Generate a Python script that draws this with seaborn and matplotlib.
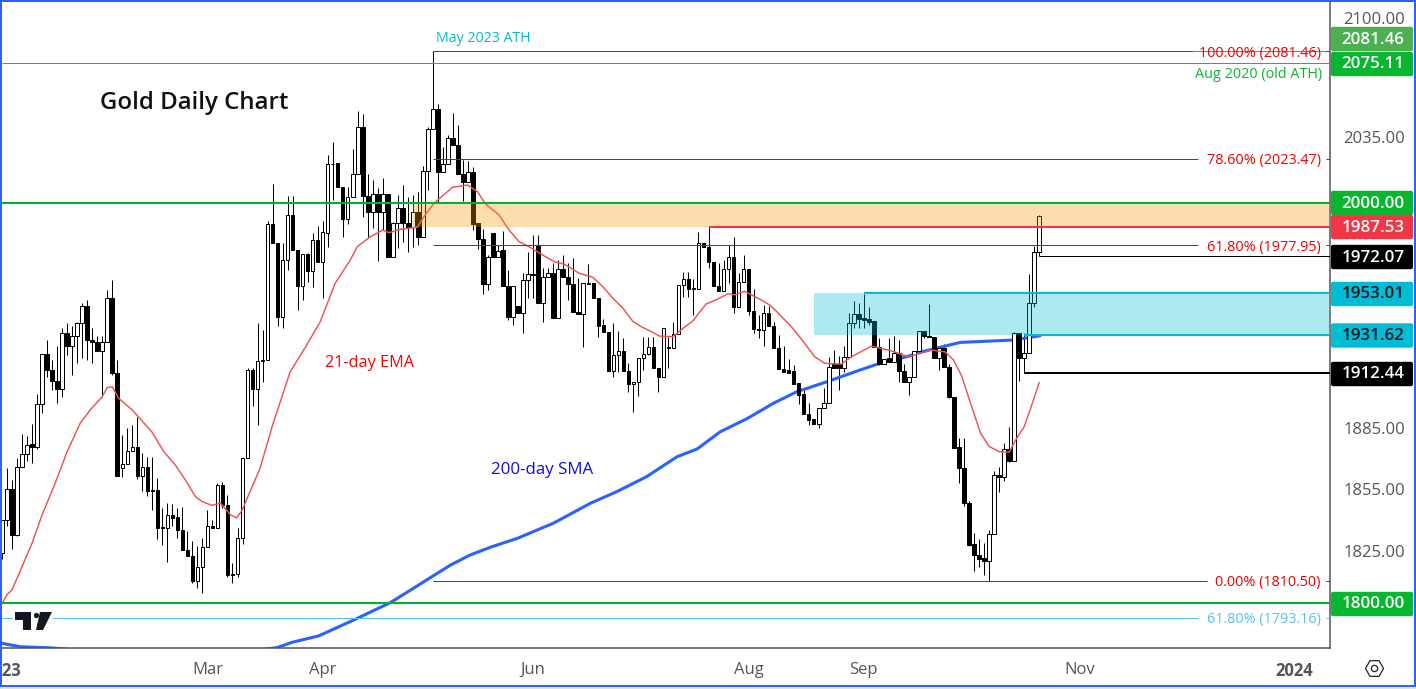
import matplotlib
matplotlib.use("Agg")
import matplotlib.pyplot as plt
from matplotlib.lines import Line2D
from matplotlib.patches import FancyBboxPatch, Polygon, Rectangle
from matplotlib.ticker import NullFormatter, FixedLocator
from matplotlib.transforms import IdentityTransform
import numpy as np
import pandas as pd
import seaborn as sns

# ---------------- data ----------------
open_ = [
 1823.9,1840,1854.8,1832.4,1865.9,1872,1877,1875.5,1896.8,1922,
 1913.7,1908.6,1904.3,1932.7,1926.2,1931,1937.8,1946.3,1929,1928,
 1923.4,1928,1950.5,1912.6,1865.1,1867.2,1873.4,1875.3,1861.4,1865.6,
 1854.5,1854.5,1836.3,1836,1842.2,1841.3,1834.8,1825.2,1822.3,1810.7,
 1817.1,1826.6,1836.8,1836,1856.6,1847.2,1813.7,1813.7,1830.9,1870.1,
 1914,1904.3,1918.3,1919.1,1989,1979.1,1940.9,1970,1993.6,1975.2,
 1956.5,1973.5,1964.3,1980.5,1969,1984.1,2020.9,2021,2008.3,1991.4,
 2003.4,2015.1,2040.3,2003.9,1995.1,2004.8,1995.1,2004.8,1971.6,1989.3,
 1997.2,1989.3,1987.5,1995.1,1982.3,2016.9,2039.2,2050.4,2016.6,2020.7,
 2034.3,2030.6,2015.1,2010.9,2016.3,1989.3,1981.3,1957.7,1984,1971.6,
 1975.4,1957,1941,1946.7,1943.1,1959.6,1962.8,1977.6,1947.9,1961.6,
 1963.3,1940.1,1965.4,1961.3,1957.7,1943.6,1942.3,1957.7,1958.2,1950.5,
 1936.8,1933,1913.6,1921.3,1923.3,1913.6,1907.1,1908,1919.8,1922,
 1925.6,1915.1,1910.5,1925.1,1925.1,1932.1,1957.2,1960.6,1955.5,1955.2,
 1978.9,1976.8,1969.4,1957,1954.4,1965.3,1971.9,1945.8,1959,1965.6,
 1944.1,1934.5,1934.1,1942.7,1936.5,1925.1,1914.2,1913.9,1913.4,1907.2,
 1901.7,1891.7,1889.4,1886.9,1894.7,1897.2,1916.9,1916.9,1915.2,1920.3,
 1937.6,1942.2,1940.5,1939.8,1938.8,1925.6,1916.8,1919.8,1918.2,1922.3,
 1913.6,1908,1910.5,1923.6,1933.5,1931.4,1930.9,1919.8,1925.1,1915.6,
 1900.6,1875.4,1865,1848.3,1828.1,1822.7,1821.3,1820.2,1832.9,1861.6,
 1860.6,1874.4,1868.8,1932.5,1920.2,1922.7,1947.9,1974.1]
high = [
 1840,1865.1,1859.3,1870,1882.1,1881.1,1887.1,1902,1922,1929.3,
 1919.1,1926.2,1935.3,1937.8,1936.1,1938.3,1948,1949.7,1935.3,1931,
 1931,1954.8,1959.9,1919.1,1881.6,1884.9,1886.6,1890.4,1872.5,1870.5,
 1870.5,1860.1,1845.6,1848,1847.7,1845.6,1846.1,1834.3,1829.5,1827.1,
 1831.1,1844.8,1840,1857.7,1858.5,1852,1819,1836,1870.1,1914.9,
 1914.9,1937.8,1934.1,1990.4,2010.1,1979.1,1979.1,2003.8,2003.5,1975.2,
 1973.5,1973.9,1984.3,1987.8,1990.4,2025.5,2032.4,2021,2008.3,2008.7,
 2028.6,2049.2,2047.4,2015.2,2012.2,2007.8,2013,2004.8,1990.2,2004.3,
 2009.6,2003.4,2004.3,2006,2019.6,2040.3,2081.46,2053.1,2029.8,2036,
 2048.2,2041.4,2022.8,2022.4,2018.9,1989.3,1986.5,1973,1984,1978,
 1985.5,1965,1957,1946.7,1963.6,1974.5,1983.1,1983.1,1966.3,1966.3,
 1968.5,1970.2,1972.8,1968.5,1971.1,1960.8,1958.2,1968.1,1958.2,1950.5,
 1939.6,1933,1937.6,1933.5,1930,1917.7,1908,1919.8,1930.8,1930.8,
 1930.7,1915.1,1935.1,1930.7,1938.5,1957.2,1964.2,1964.2,1960.3,1984.8,
 1978.9,1987.7,1969.4,1968.6,1970.2,1978,1982.2,1963.3,1972.8,1965.6,
 1955,1941.9,1947,1946.5,1938.5,1931.7,1926,1919.4,1916.5,1907.2,
 1903.8,1897.2,1889.4,1894.7,1904.7,1920.7,1924,1921,1925.9,1942.7,
 1948.8,1947.9,1952.8,1946.2,1938.8,1930,1919.5,1930,1931,1929,
 1917,1910.5,1923.6,1933.5,1933.5,1947.4,1930.9,1925.1,1927.3,1917,
 1900.6,1879.8,1879.8,1848.8,1833.4,1830.5,1828.6,1835,1863.8,1865.8,
 1877.7,1885.3,1933,1932.5,1932.5,1962.9,1977.6,1993.5]
low = [
 1821,1836.8,1825.8,1832,1865.9,1868.4,1867.6,1874.5,1892.4,1910.6,
 1903.9,1897.3,1900.6,1921.3,1911.4,1917.7,1919.9,1919.1,1917.4,1923.4,
 1900.6,1928,1911.4,1861.4,1861,1867.2,1873.4,1859.8,1853.7,1851.3,
 1844.8,1830.8,1827.9,1819.4,1836.8,1831.1,1825.2,1822.3,1809.4,1807,
 1804.9,1826.6,1836,1836,1845.6,1812.6,1809.7,1812.6,1828.2,1870.1,
 1895.7,1886.3,1908.1,1919.1,1979.1,1936.1,1935.1,1965.1,1975.2,1944.6,
 1949.7,1959,1956.2,1969,1950.5,1977.1,2001.6,2008.3,1982,1989,
 2003.4,2015.1,1992.8,1982,1986.8,1969.9,1986,1971.6,1971.6,1976.2,
 1979.7,1974.5,1977.1,1978,1982.3,2006.6,2039.2,2000.7,2016.6,2020.7,
 2030.6,2015.1,2001.2,2010.9,1986,1975.7,1952.7,1954.8,1971.6,1971.6,
 1957,1939.3,1936.8,1943.1,1932.5,1950.5,1950.4,1947.9,1938.5,1961.6,
 1940.1,1940.1,1961.3,1949.6,1943.6,1942.3,1925.4,1957.7,1950.5,1930.6,
 1933,1913.6,1910.6,1913,1913.6,1903,1893,1900.9,1914,1921.5,
 1915.1,1903,1910.5,1914.8,1925.1,1932.1,1951,1951.3,1942,1955.2,
 1976.8,1966,1957,1954.4,1954.4,1958.2,1943,1945.8,1959,1941.9,
 1932.5,1930,1926,1936.5,1925.1,1914.2,1912.7,1912.6,1906.9,1896.9,
 1891.7,1886.4,1886.9,1885,1894.7,1897.2,1915.2,1904,1913,1920.3,
 1935,1935.1,1935.1,1937,1925.6,1916.5,1916.8,1918.2,1918.2,1908,
 1908,1901.3,1910.5,1923.6,1930.2,1930.5,1919.8,1914,1915.6,1899.7,
 1874.9,1857.7,1846.7,1827.3,1815.4,1817,1813.4,1810.5,1832.9,1853.6,
 1859,1868.3,1868.8,1908.6,1912.44,1922.7,1946,1972.07]
close = [
 1840,1854.8,1832.4,1865.9,1872,1876.7,1875.5,1896.8,1922,1913.7,
 1908.6,1904.3,1932.7,1926.2,1931,1937.8,1946.3,1929,1928,1923.4,
 1928,1950.5,1912.6,1861.4,1867.2,1873.4,1875.3,1861.4,1865.6,1854.1,
 1853.8,1836,1836,1842.1,1840.9,1834.8,1825.2,1822.3,1810.7,1817.1,
 1826.6,1836.8,1836,1856.6,1847.2,1813.4,1813.2,1830.9,1870.1,1913.7,
 1904.3,1918.3,1919.1,1989,1979.1,1940.9,1970,1993.6,1975.2,1956.5,
 1973.5,1964.3,1980.5,1969,1984.7,2020.5,2020.5,2008.3,1991.4,2003.4,
 2015.1,2040.3,2003.9,1995.1,2004.8,1995.1,2004.8,1971.6,1989.3,1997.2,
 1989.3,1987.5,1995.1,1982.3,2016.9,2039.2,2050.4,2016.6,2020.7,2034.3,
 2030.6,2015.1,2010.9,2016.3,1989,1981.3,1957.7,1971.6,1971.6,1975,
 1957,1941,1957,1943.1,1959.6,1962.8,1962.5,1947.9,1961.6,1963.3,
 1940.1,1965.4,1961.3,1957.7,1943.6,1942.3,1958.2,1958.2,1950.5,1936.5,
 1933,1913.6,1921.6,1923.3,1913.6,1907.1,1908,1919.8,1922,1925.8,
 1915.1,1910.5,1935.1,1925.6,1932.1,1957.2,1960.6,1955.2,1955.2,1978.9,
 1976.8,1969.4,1957,1954.4,1965.3,1971.9,1945.8,1959,1965.3,1944.1,
 1934.5,1934.1,1942.7,1936.5,1925.1,1914.2,1912.7,1912.6,1906.9,1901.4,
 1891.7,1888.9,1886.9,1894.7,1897.2,1915.3,1915.2,1915.2,1920.3,1937.6,
 1942.2,1939.8,1939.3,1938.5,1925.6,1916.8,1919.5,1918.2,1922.3,1913.6,
 1908,1910.5,1923.6,1933.5,1931.4,1930.5,1919.8,1925.1,1915.6,1900.6,
 1874.9,1865,1848.3,1827.8,1822.7,1821,1820.2,1832.9,1861.6,1860.6,
 1874.4,1868.8,1932.5,1920.2,1922.7,1947.9,1974.1,1993.2]

ema_bar = [0,1,2,3.7,6,8,10.6,13,15.6,17.6,20,21,22,23.3,26,29.9,32.3,34.6,36.6,38.6,39.9,41.9,43.6,45.6,46.8,47.9,49.5,51.5,54,55,57.5,61,63.5,
           66.5,69.5,70.9,73.5,76,77.2,79.5,82.9,84.2,86.2,89.9,92.9,94.9,96.5,99.2,101.2,103.2,105.2,107.9,110.2,112.2,115.2,117.9,119.9,121.9,123.9,125.9,127.5,129.5,
           131.2,133.9,135.9,137.9,140.5,142.5,144.9,146.2,148.2,151.5,153.5,157.5,160.2,162.2,164.2,167.5,169.5,173.5,177.5,180.9,185.5,188.2,189.9,191.5,193.3,195.3,197,199,201,202.3,204,205.3,207]
ema_val = [1799.7,1804,1806.2,1815.7,1828.6,1842.3,1857.7,1873.2,1887.3,1893.9,1900.5,1905.1,1905.5,1899.7,1893.9,1883,1873.2,1866.6,1859.3,1851.2,1848.8,1846.9,1848,1842.3,1840.8,1844.5,1853.6,1865,1886.4,1893.9,1913,1927.4,1938.4,
           1958.2,1970.2,1977.1,1982.3,1985.8,1984.4,1986.2,1987.3,1992.8,1999.8,2008.3,2009.5,2006,1999.5,1993.7,1985.8,1979.7,1977.1,1972.8,1969.3,1968.1,1963.3,1961.3,1956.4,1950.5,1945.4,1938.6,1936,1933.5,
           1931.1,1930.8,1935,1938.9,1947.5,1949.6,1952.8,1952.2,1954,1949.6,1946.5,1936,1927.4,1920.6,1917.3,1916.9,1920.6,1926,1923.6,1920.6,1924,1923.1,1919,1911,1897.2,1882.3,1875.8,1873.2,1873,1879,1885.6,1894.8,1907.7]

sma_bar = [0,3.7,9.6,19.6,29.6,39.6,49.6,54.9,57.9,63.2,70.2,77.5,82.1,86.1,89.5,93.4,97.4,102.8,110,117.4,122.7,128.7,134.7,138.7,143.3,148.7,154,158.6,164.6,171.3,175.2,180.6,183.8,191.2,201.8,207.2]
sma_val = [1781,1779.4,1778.9,1777,1776,1776,1777.4,1779,1781.5,1784.5,1792,1800.2,1807,1813,1818.1,1822.9,1826.6,1830.9,1838.2,1847.9,1853.6,1861,1870.7,1874.5,1883,1889.6,1897.3,1903,1908,1914,1917.3,1920.7,1923.3,1927.9,1929.1,1931.3]

tick_prices = [2100, 2035, 1885, 1855, 1825]
month_bars = [0, 41, 64, 106, 149, 172, 215, 258]
month_labels = ['2023', 'Mar', 'Apr', 'Jun', 'Aug', 'Sep', 'Nov', '2024']

# horizontal levels: price, first bar, colour, width in px
level_price = [2075.11, 2000.00, 1800.00, 1987.53, 1953.01, 1931.62, 1972.07, 1912.44]
level_start = [0, 0, 0, 141, 172, 204, 207, 204]
level_color = ['#2FAF47', '#00B32C', '#00B32C', '#F23645', '#00BCD4', '#00BCD4', '#000000', '#000000']
level_width = [1, 2, 2, 2, 2, 2, 1, 2]

fib_price = [2081.46, 2023.47, 1977.95, 1810.50, 1793.16]
fib_label = ['100.00% (2081.46)', '78.60% (2023.47)', '61.80% (1977.95)', '0.00% (1810.50)', '61.80% (1793.16)']
fib_color = ['#F00000', '#F00000', '#F00000', '#F00000', '#55BEF5']
fib_start = [86, 86, 86, 86, 0]
fib_stop = [237.6, 238.7, 238.7, 240.5, 238.7]

box_text = ['2081.46', '2075.11', '2000.00', '1987.53', '1972.07', '1953.01', '1931.62', '1912.44', '1800.00']
box_center = [39, 64, 203, 227, 257, 294, 335.5, 374, 604]
box_color = ['#4CAF50', '#08B62F', '#08B62F', '#F23645', '#000000', '#00BCD4', '#00BCD4', '#000000', '#08B62F']
box_ink = ['white', 'white', 'white', 'white', 'white', '#131722', '#131722', 'white', 'white']

# ---------------- figure ----------------
W, H = 1416, 689
sns.set_theme(style='white')
plt.rcParams['font.family'] = ['Open Sans', 'DejaVu Sans']
fig = plt.figure(figsize=(W / 100, H / 100), dpi=100, facecolor='white')
AXL, AXR, AXT, AXB = 2, 1330, 2, 648
ax = fig.add_axes([AXL / W, 1 - AXB / H, (AXR - AXL) / W, (AXB - AXT) / H])
PX = 0.72
BAR_PX = 5.012
X0 = 1.67
xlim = ((AXL - X0) / BAR_PX, (AXR - X0) / BAR_PX)
Y_K = 3797.0
ylim = (2000 * np.exp(-(AXB - 203) / Y_K), 2000 * np.exp((203 - AXT) / Y_K))
ax.set_yscale('log')

bars = np.arange(len(close))
o, h_, l_, c = map(np.array, (open_, high, low, close))
up = c >= o
ax.vlines(bars, l_, h_, color='black', lw=1.0 * PX, zorder=2)
ax.bar(bars, np.abs(c - o), bottom=np.minimum(o, c), width=0.7,
       color=np.where(up, 'white', 'black'), edgecolor='black', linewidth=1.0 * PX, zorder=2.5)

sns.lineplot(x=ema_bar, y=ema_val, ax=ax, color='#F0524F', lw=1.05, zorder=3, errorbar=None, sort=False)
sns.lineplot(x=sma_bar, y=sma_val, ax=ax, color='#2962FF', lw=2.2, zorder=2.2, errorbar=None, sort=False)

ax.fill_between([82, xlim[1]], 1987.53, 2000, color='#FA9600', alpha=0.32, lw=0, zorder=4)
ax.fill_between([162, xlim[1]], 1931.62, 1953.01, color='#00BCD4', alpha=0.32, lw=0, zorder=4)

def hline(p, s, e, col, w, z=5):
    lc = ax.hlines(p, s, e, color=col, lw=w * PX, zorder=z)
    lc.set_snap(True)

for p, s, col, w in zip(level_price, level_start, level_color, level_width):
    hline(p, s, xlim[1], col, w)
hline(2081.46, 237.6, xlim[1], '#2FAF47', 1)

for p, lab, col, s, e in zip(fib_price, fib_label, fib_color, fib_start, fib_stop):
    hline(p, s, e, col, 1)
    hline(p, 264.3, xlim[1], col, 1)
    ax.text((1320.5 - X0) / BAR_PX, p, lab, color=col, fontsize=10.4, ha='right', va='center_baseline', zorder=6)

ax.set_xlim(*xlim)
ax.set_ylim(*ylim)
ax.yaxis.tick_right()
ax.yaxis.set_major_locator(FixedLocator(tick_prices))
ax.yaxis.set_minor_locator(FixedLocator([]))
ax.yaxis.set_minor_formatter(NullFormatter())
ax.set_yticklabels([f'{t:.2f}' for t in tick_prices])
ax.set_xticks(month_bars)
ax.set_xticklabels(month_labels)
ax.tick_params(axis='both', length=0, colors='#555555', labelsize=12)
ax.tick_params(axis='y', pad=9.5)
ax.tick_params(axis='x', pad=10)
for lab in ax.get_xticklabels():
    if lab.get_text() in ('2023', '2024'):
        lab.set_fontweight('bold')
for s in ('left', 'top'):
    ax.spines[s].set_visible(False)
for s in ('right', 'bottom'):
    ax.spines[s].set_color('#555555')
    ax.spines[s].set_linewidth(1.1)

# annotation texts
def fx(x): return x / W
def fy(y): return 1 - y / H
fig.text(fx(100), fy(103), 'Gold Daily Chart', fontsize=17.3, color='#111111', weight='semibold', va='center', ha='left')
fig.text(fx(436), fy(38), 'May 2023 ATH', fontsize=10.2, color='#00BCD4', va='center', ha='left')
fig.text(fx(325), fy(363), '21-day EMA', fontsize=11.7, color='#FF0000', va='center', ha='left')
fig.text(fx(491), fy(470), '200-day SMA', fontsize=12.2, color='#0D0DE8', va='center', ha='left', weight='medium')
fig.text(fx(1322), fy(75), 'Aug 2020 (old ATH)', fontsize=10.4, color='#08B62F', va='center', ha='right')

# price boxes on the right scale (drawn in pixels, so corners stay round)
for t, cy, col, ink in zip(box_text, box_center, box_color, box_ink):
    r = FancyBboxPatch((1331, H - (cy + 12.2)), 82, 24.4, boxstyle='round,pad=0,rounding_size=2',
                       transform=IdentityTransform(), facecolor=col, edgecolor='none', zorder=5)
    fig.add_artist(r)
    fig.text(fx(1373), fy(cy + 0.5), t, color=ink, fontsize=12.2, weight='semibold', ha='center', va='center', zorder=6)

# TradingView mark
logo = '#131722'
def poly(pts):
    fig.add_artist(Polygon([(fx(x), fy(y)) for x, y in pts], closed=True, transform=fig.transFigure,
                           facecolor=logo, edgecolor='none', zorder=6))
fig.add_artist(Rectangle((fx(13), fy(634)), 40 / W, 27 / H, transform=fig.transFigure, facecolor='white', edgecolor='none', zorder=5.5))
poly([(15, 612), (31, 612), (31, 630), (23, 630), (23, 620), (15, 620)])
poly([(40, 612), (52, 612), (43, 630), (36, 630)])
fig.add_artist(Line2D([fx(36)], [fy(615)], marker='o', ms=3.8, mfc=logo, mec='none', transform=fig.transFigure, zorder=6))

# settings icon
fig.add_artist(Line2D([fx(1373.5)], [fy(668)], marker='H', ms=13, mfc='none', mec='#222222', mew=0.9, transform=fig.transFigure, zorder=6))
fig.add_artist(Line2D([fx(1373.5)], [fy(668)], marker='o', ms=4.5, mfc='none', mec='#222222', mew=0.9, transform=fig.transFigure, zorder=6))

# window frame
fig.add_artist(Rectangle((0, fy(689)), 1, 2.5 / H, transform=fig.transFigure, facecolor='#E3E6EE', edgecolor='none', zorder=9))
fig.add_artist(Rectangle((fx(1), fy(686)), 1413.5 / W, 685 / H, transform=fig.transFigure, facecolor='none', edgecolor='#2962FF', lw=2 * PX, zorder=10))

fig.savefig('out.png', dpi=100)
